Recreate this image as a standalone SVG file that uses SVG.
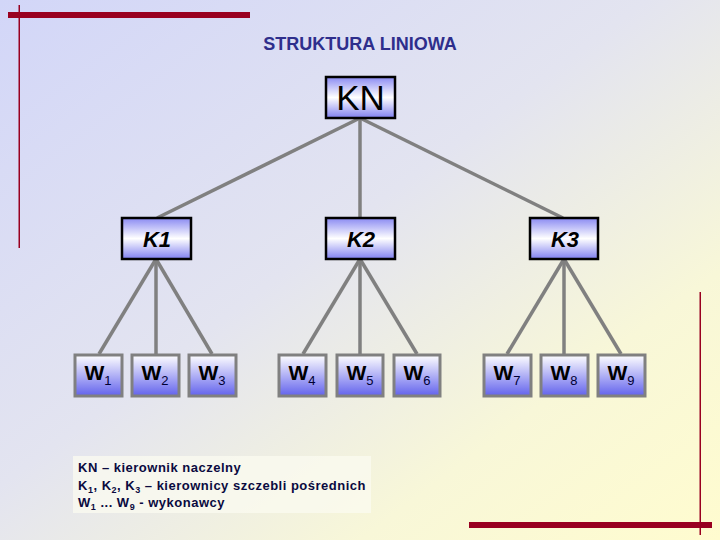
<svg xmlns="http://www.w3.org/2000/svg" width="720" height="540" viewBox="0 0 720 540">
<defs>
<linearGradient id="bg" x1="0" y1="0" x2="1" y2="1">
<stop offset="0" stop-color="#d2d6f8"/>
<stop offset="0.45" stop-color="#e3e4f0"/>
<stop offset="0.75" stop-color="#f8f7d8"/>
<stop offset="1" stop-color="#fffccf"/>
</linearGradient>
<linearGradient id="kfill" x1="0" y1="0" x2="0" y2="1">
<stop offset="0" stop-color="#8a8af2"/>
<stop offset="0.5" stop-color="#ffffff"/>
<stop offset="1" stop-color="#8080f0"/>
</linearGradient>
<linearGradient id="wfill" x1="0" y1="0" x2="0" y2="1">
<stop offset="0" stop-color="#ffffff"/>
<stop offset="1" stop-color="#6262ec"/>
</linearGradient>
<style>
.k{fill:url(#kfill);stroke:#000;stroke-width:2.5}
.w{fill:url(#wfill);stroke:#808080;stroke-width:3}
.c line{stroke:#808080;stroke-width:3.5}
.kt{font-family:"Liberation Sans",Arial,sans-serif;font-size:22px;font-weight:bold;font-style:italic;fill:#000;text-anchor:middle}
.wt{font-family:"Liberation Sans",Arial,sans-serif;font-size:21px;font-weight:bold;fill:#000;text-anchor:middle}
.sub{font-size:13px;font-weight:normal;fill:#000033}
.red{fill:#990020}
.leg{font-family:"Liberation Sans",Arial,sans-serif;font-size:13px;font-weight:bold;fill:#0a0a40;letter-spacing:0.5px}
</style>
</defs>
<rect width="720" height="540" fill="url(#bg)"/>
<g id="decor">
<rect class="red" x="8" y="12" width="242" height="6"/>
<rect class="red" x="18.5" y="5" width="1.5" height="243"/>
<rect class="red" x="469" y="522" width="243" height="6"/>
<rect class="red" x="699.5" y="292" width="1.5" height="243"/>
</g>
<text id="title" x="360" y="50" font-family="'Liberation Sans',Arial,sans-serif" font-size="18" font-weight="bold" fill="#2e2e8c" text-anchor="middle">STRUKTURA LINIOWA</text>
<g id="connectors" class="c">
<line x1="360" y1="118" x2="157" y2="218"/>
<line x1="360" y1="118" x2="360" y2="218"/>
<line x1="360" y1="118" x2="563" y2="218"/>
<line x1="156" y1="259" x2="99" y2="354"/>
<line x1="156" y1="259" x2="156" y2="354"/>
<line x1="156" y1="259" x2="212" y2="354"/>
<line x1="360" y1="259" x2="303" y2="354"/>
<line x1="360" y1="259" x2="360" y2="354"/>
<line x1="360" y1="259" x2="417" y2="354"/>
<line x1="564" y1="259" x2="507" y2="354"/>
<line x1="564" y1="259" x2="564" y2="354"/>
<line x1="564" y1="259" x2="621" y2="354"/>
</g>
<g id="KN"><rect class="k" x="326" y="77" width="69" height="41"/><text x="360.5" y="110" font-family="'Liberation Sans',Arial,sans-serif" font-size="35" fill="#000" text-anchor="middle">KN</text></g>
<g id="K1"><rect class="k" x="122" y="218" width="69" height="41"/><text class="kt" x="157" y="247">K1</text></g>
<g id="K2"><rect class="k" x="326" y="218" width="69" height="41"/><text class="kt" x="361" y="247">K2</text></g>
<g id="K3"><rect class="k" x="530" y="218" width="68" height="41"/><text class="kt" x="565" y="247">K3</text></g>
<g id="W1"><rect class="w" x="75" y="355" width="47" height="41"/><text class="wt" x="98" y="380">W<tspan class="sub" dy="5">1</tspan></text></g>
<g id="W2"><rect class="w" x="132" y="355" width="47" height="41"/><text class="wt" x="155" y="380">W<tspan class="sub" dy="5">2</tspan></text></g>
<g id="W3"><rect class="w" x="189" y="355" width="47" height="41"/><text class="wt" x="212" y="380">W<tspan class="sub" dy="5">3</tspan></text></g>
<g id="W4"><rect class="w" x="279" y="355" width="47" height="41"/><text class="wt" x="302" y="380">W<tspan class="sub" dy="5">4</tspan></text></g>
<g id="W5"><rect class="w" x="337" y="355" width="46" height="41"/><text class="wt" x="360" y="380">W<tspan class="sub" dy="5">5</tspan></text></g>
<g id="W6"><rect class="w" x="394" y="355" width="46" height="41"/><text class="wt" x="417" y="380">W<tspan class="sub" dy="5">6</tspan></text></g>
<g id="W7"><rect class="w" x="484" y="355" width="47" height="41"/><text class="wt" x="507" y="380">W<tspan class="sub" dy="5">7</tspan></text></g>
<g id="W8"><rect class="w" x="541" y="355" width="47" height="41"/><text class="wt" x="564" y="380">W<tspan class="sub" dy="5">8</tspan></text></g>
<g id="W9"><rect class="w" x="598" y="355" width="47" height="41"/><text class="wt" x="621" y="380">W<tspan class="sub" dy="5">9</tspan></text></g>
<g id="legend">
<rect x="73" y="456" width="298" height="57" fill="#fbfbf0" opacity="0.75"/>
<text class="leg" x="78" y="472">KN – kierownik naczelny</text>
<text class="leg" x="78" y="490">K<tspan font-size="9" dy="3">1</tspan><tspan dy="-3">, K</tspan><tspan font-size="9" dy="3">2</tspan><tspan dy="-3">, K</tspan><tspan font-size="9" dy="3">3</tspan><tspan dy="-3"> – kierownicy szczebli pośrednich</tspan></text>
<text class="leg" x="78" y="507">W<tspan font-size="9" dy="3">1</tspan><tspan dy="-3"> ... W</tspan><tspan font-size="9" dy="3">9</tspan><tspan dy="-3"> - wykonawcy</tspan></text>
</g>
</svg>
